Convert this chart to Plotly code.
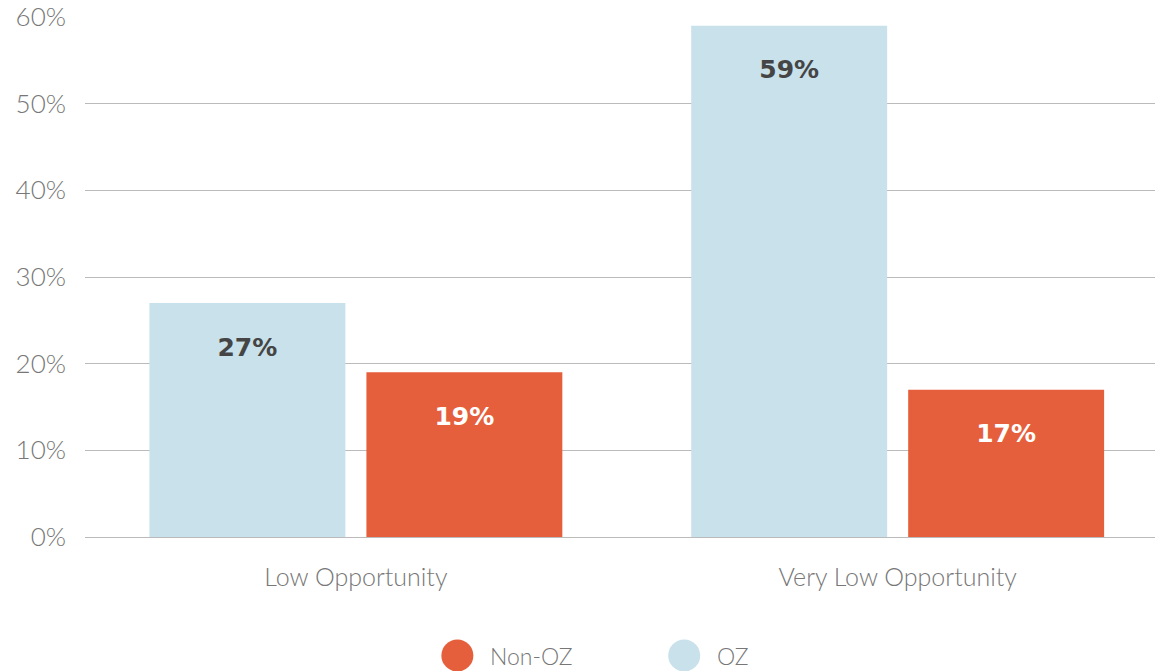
import plotly.graph_objects as go

categories = ["Low Opportunity", "Very Low Opportunity"]
oz_values = [27, 59]
non_oz_values = [19, 17]
y_ticks = [0, 10, 20, 30, 40, 50, 60]
y_tick_labels = ["0%", "10%", "20%", "30%", "40%", "50%", "60%"]
legend_names = ["Non-OZ", "OZ"]

C_OZ = "#C8E1EA"
C_NON = "#E65F3C"
TXT = "#777777"

label_tmpl = '<span style="font-size:18px">\u00a0</span><br>%{y}%'

fig = go.Figure()
fig.add_trace(go.Bar(
    x=categories, y=oz_values, name="OZ", marker=dict(color=C_OZ, line=dict(width=0)),
    texttemplate=label_tmpl, textposition="inside", insidetextanchor="end",
    textfont=dict(family="DejaVu Sans", size=25, color="#454545", weight="bold"),
    showlegend=False, constraintext="none", cliponaxis=False,
))
fig.add_trace(go.Bar(
    x=categories, y=non_oz_values, name="Non-OZ", marker=dict(color=C_NON, line=dict(width=0)),
    texttemplate=label_tmpl, textposition="inside", insidetextanchor="end",
    textfont=dict(family="DejaVu Sans", size=25, color="#FFFFFF", weight="bold"),
    showlegend=False, constraintext="none", cliponaxis=False,
))

# legend drawn as circles + labels
legend_colors = {"Non-OZ": C_NON, "OZ": C_OZ}
legend_x = {"Non-OZ": 0.348, "OZ": 0.560}
for name in legend_names:
    fig.add_shape(type="circle", xref="paper", yref="paper",
                  xsizemode="pixel", ysizemode="pixel",
                  xanchor=legend_x[name], yanchor=-0.228,
                  x0=-16, x1=16, y0=-16, y1=16,
                  fillcolor=legend_colors[name], line=dict(width=0))
    fig.add_annotation(text=name, xref="paper", yref="paper",
                       x=legend_x[name], y=-0.228, xshift=31, xanchor="left", yanchor="middle",
                       showarrow=False, font=dict(family="Lato", size=23, color=TXT, weight=300))

fig.update_layout(
    width=1155, height=671,
    margin=dict(l=85, r=0, t=17, b=134),
    plot_bgcolor="white", paper_bgcolor="white",
    barmode="group", bargap=0.199, bargroupgap=0.097,
    font=dict(family="Lato", color=TXT, weight=300),
    xaxis=dict(range=[-0.5, 1.475], showgrid=False, showline=False, ticks="",
               tickfont=dict(size=25, color=TXT, family="Lato", weight=300),
               ticklabelstandoff=23),
    yaxis=dict(range=[0, 60], tickvals=y_ticks, ticktext=y_tick_labels,
               showgrid=True, gridcolor="#BBBBBB", gridwidth=1,
               zeroline=True, zerolinecolor="#BBBBBB", zerolinewidth=1,
               showline=False, ticks="",
               tickfont=dict(size=26, color=TXT, family="Lato", weight=300),
               ticklabelstandoff=18),
)

fig.write_html("out.html", config={"displayModeBar": False},
               post_script="document.body.style.margin='0';document.body.style.overflow='hidden';")
